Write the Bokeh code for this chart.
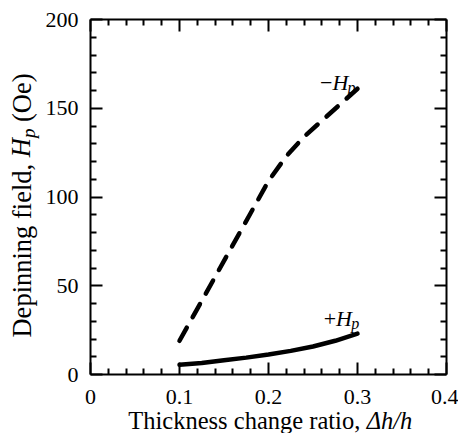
from bokeh.plotting import figure
from bokeh.models import Range1d, LinearAxis, FixedTicker, Label, Grid
from bokeh.embed import file_html
from bokeh.resources import INLINE

# ---- data ----
ratio_neg = [0.10, 0.12, 0.14, 0.16, 0.18, 0.20, 0.22, 0.24, 0.26, 0.28, 0.30]
hp_neg = [19, 37, 55, 73, 91, 109, 123, 134, 143, 152, 161]
ratio_pos = [0.100, 0.125, 0.150, 0.175, 0.200, 0.225, 0.250, 0.275, 0.300]
hp_pos = [5.5, 6.5, 8.0, 9.5, 11.3, 13.3, 15.8, 19.0, 23.0]

x_major = [0, 0.1, 0.2, 0.3, 0.4]
x_minor = [0.02, 0.04, 0.06, 0.08, 0.12, 0.14, 0.16, 0.18, 0.22, 0.24, 0.26, 0.28,
           0.32, 0.34, 0.36, 0.38]
x_labels = {0: "0", 0.1: "0.1", 0.2: "0.2", 0.3: "0.3", 0.4: "0.4"}
y_major = [0, 50, 100, 150, 200]
y_minor = [10, 20, 30, 40, 60, 70, 80, 90, 110, 120, 130, 140, 160, 170, 180, 190]

x_title = ["Thickness change ratio,", "\u0394h/h"]
y_title = ["Depinning field,", "H", "p", "(Oe)"]

FONT = "Liberation Serif"

p = figure(frame_width=356, frame_height=355, x_range=Range1d(0, 0.4),
           y_range=Range1d(0, 200),
           output_backend="svg", toolbar_location=None,
           x_axis_location=None, y_axis_location=None,
           min_border_left=90, min_border_right=12, min_border_top=19,
           min_border_bottom=10)
p.outline_line_color = None
p.background_fill_color = "white"
p.border_fill_color = "white"
p.center = [c for c in p.center if not isinstance(c, Grid)]


def make_axis(ticks, minor, show_labels):
    ax = LinearAxis(ticker=FixedTicker(ticks=ticks, minor_ticks=minor))
    ax.axis_line_width = 2
    ax.axis_line_color = "black"
    ax.major_tick_in = 12
    ax.major_tick_out = 0
    ax.minor_tick_in = 6
    ax.minor_tick_out = 0
    ax.major_tick_line_width = 2
    ax.minor_tick_line_width = 2
    ax.major_tick_line_color = "black"
    ax.minor_tick_line_color = "black"
    if show_labels:
        ax.major_label_text_font = FONT
        ax.major_label_text_font_size = "22px"
        ax.major_label_text_color = "black"
        ax.major_label_standoff = 12
    else:
        ax.major_label_text_font_size = "0px"
        ax.major_label_text_color = None
        ax.major_label_standoff = 0
    return ax


def title_axis(ticks, texts, style, size, standoff, vertical=False):
    ax = LinearAxis(ticker=FixedTicker(ticks=ticks, minor_ticks=[]))
    ax.axis_line_color = None
    ax.major_tick_line_color = None
    ax.minor_tick_line_color = None
    ax.major_tick_in = 0
    ax.major_tick_out = 0
    ax.minor_tick_in = 0
    ax.minor_tick_out = 0
    ax.major_label_overrides = dict(zip(ticks, texts))
    ax.major_label_text_font = FONT
    ax.major_label_text_font_style = style
    ax.major_label_text_font_size = f"{size}px"
    ax.major_label_text_color = "black"
    ax.major_label_standoff = int(round(standoff))
    if vertical:
        ax.major_label_orientation = "parallel"
    return ax


bx = make_axis(x_major, x_minor, True)
bx.major_label_overrides = x_labels
bx.major_label_standoff = 15
p.add_layout(bx, "below")
ly = make_axis(y_major, y_minor, True)
p.add_layout(ly, "left")
p.add_layout(make_axis(x_major, x_minor, False), "above")
p.add_layout(make_axis(y_major, y_minor, False), "right")

# axis titles built from pieces so that the italic parts stay italic
HX = 30      # row extent (text box + padding) of a 24.5px label
HY = 32      # row extent (text box + padding) of a 26.5px label
p.add_layout(title_axis([0.1728], [x_title[0]], "normal", 24.5, 0), "below")
p.add_layout(title_axis([0.336], [x_title[1]], "italic", 24.5, -HX), "below")
p.add_layout(title_axis([69.75, 155.9], [y_title[0], y_title[3]], "normal", 26.5, 5, True),
             "left")
p.add_layout(title_axis([127.8], [y_title[1]], "italic", 26.5, -HY, True), "left")
p.add_layout(title_axis([135.9], [y_title[2]], "italic", 19, -(HY + 4), True), "left")

# curves
p.line(ratio_neg, hp_neg, line_color="black", line_width=4.5, line_dash="15 12",
       line_cap="round")
p.line(ratio_pos, hp_pos, line_color="black", line_width=4.5, line_cap="round")


def pieces(x, y, parts):
    for text, style, size, along, perp in parts:
        p.add_layout(Label(x=x, y=y, text=text, text_font=FONT, text_font_style=style,
                           text_font_size=f"{size}px", text_color="black",
                           text_align="left", text_baseline="alphabetic",
                           x_offset=along, y_offset=-perp))


# curve annotations
pieces(0.258, 164.5, [("\u2212", "normal", 22, 0, 0), ("H", "italic", 22, 12.4, 0),
                      ("p", "italic", 16, 27.5, 5)])
pieces(0.262, 31.4, [("+", "normal", 22, 0, 0), ("H", "italic", 22, 12.4, 0),
                     ("p", "italic", 16, 27.5, 5)])

open("out.html", "w").write(file_html(p, INLINE))
